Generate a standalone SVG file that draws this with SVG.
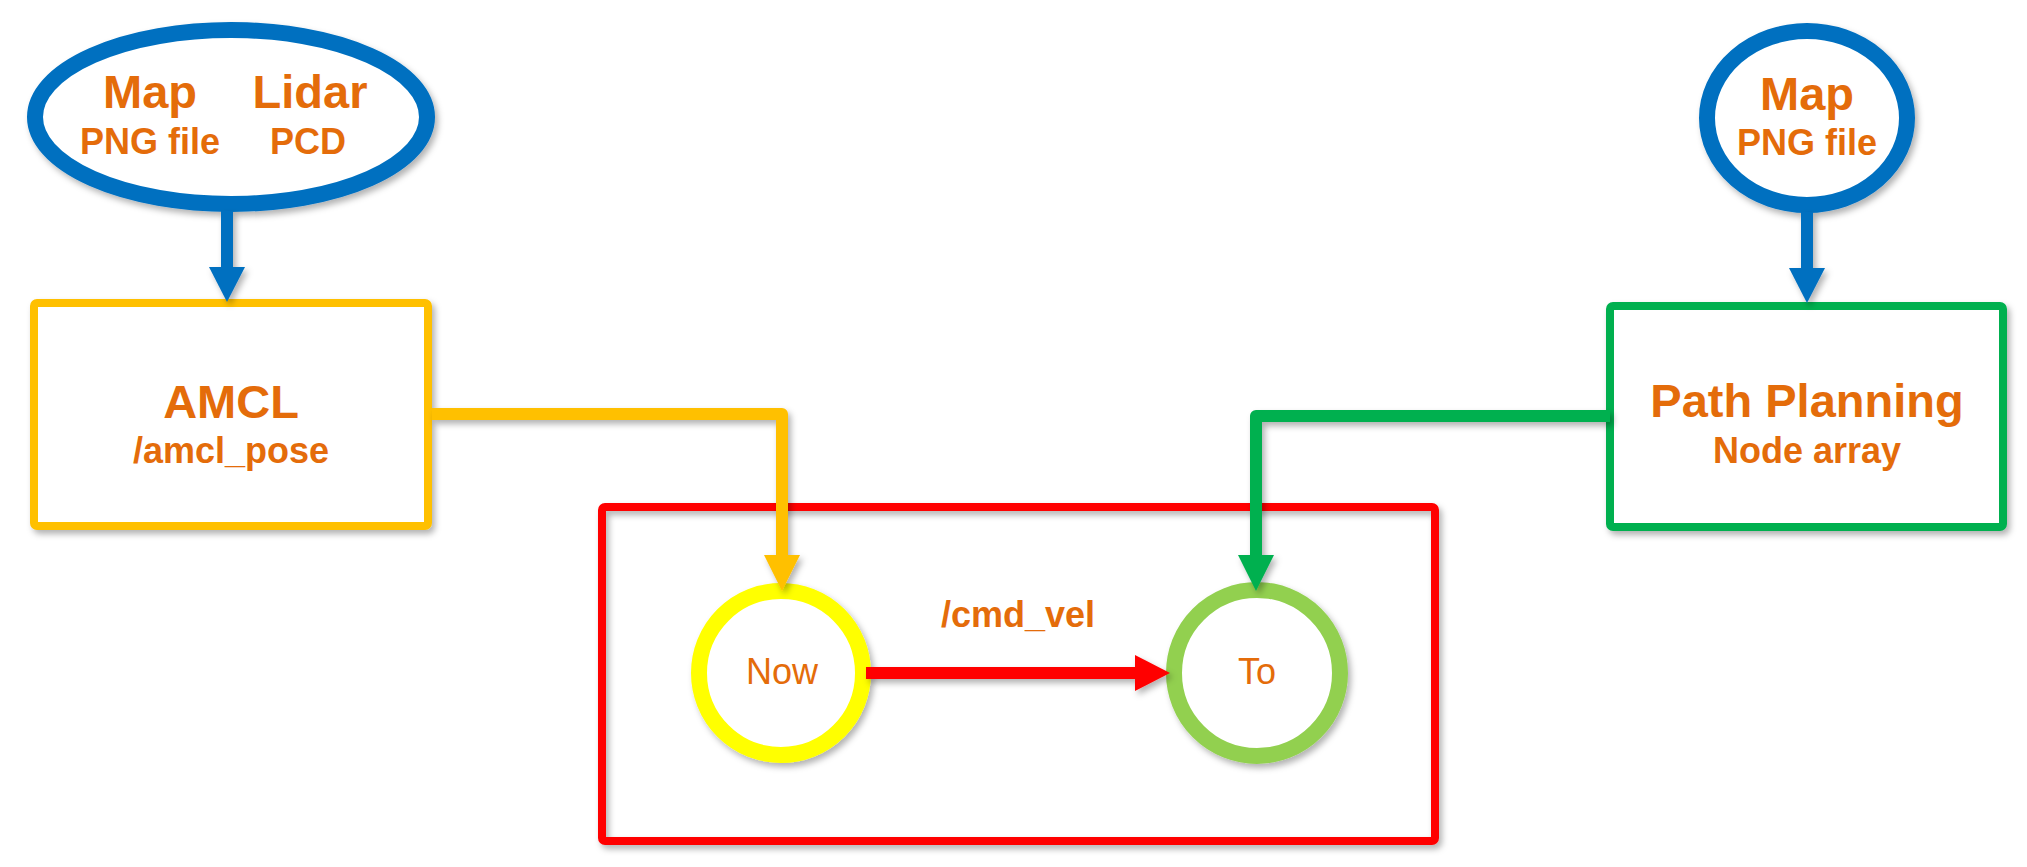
<svg xmlns="http://www.w3.org/2000/svg" width="2027" height="867" viewBox="0 0 2027 867">
<defs>
<filter id="sh" filterUnits="userSpaceOnUse" x="0" y="0" width="2027" height="867">
<feDropShadow dx="3" dy="4" stdDeviation="3" flood-color="#000" flood-opacity="0.3"/>
</filter>
<marker id="aBlue" markerUnits="userSpaceOnUse" markerWidth="36" markerHeight="36" refX="0" refY="18" orient="auto"><path d="M0,0 L35,18 L0,36 z" fill="#0070C0"/></marker>
<marker id="aYellow" markerUnits="userSpaceOnUse" markerWidth="36" markerHeight="36" refX="0" refY="18" orient="auto"><path d="M0,0 L36,18 L0,36 z" fill="#FFC000"/></marker>
<marker id="aGreen" markerUnits="userSpaceOnUse" markerWidth="36" markerHeight="36" refX="0" refY="18" orient="auto"><path d="M0,0 L36,18 L0,36 z" fill="#00B050"/></marker>
<marker id="aRed" markerUnits="userSpaceOnUse" markerWidth="36" markerHeight="36" refX="0" refY="18" orient="auto"><path d="M0,0 L35,18 L0,36 z" fill="#FF0000"/></marker>
</defs>
<style>
text{font-family:"Liberation Sans",Arial,sans-serif;fill:#E46C0A;text-anchor:middle}
.main{font-size:47px;font-weight:bold}
.sub{font-size:36px;font-weight:bold}
.reg{font-size:36px}
.shape{fill:#fff;filter:url(#sh)}
.conn{fill:none;stroke-width:12;stroke-linejoin:round;filter:url(#sh)}
</style>
<rect width="2027" height="867" fill="#fff"/>
<g id="input-left">
<ellipse class="shape" cx="231" cy="117" rx="196" ry="87" stroke="#0070C0" stroke-width="16"/>
<text class="main" x="150" y="108">Map</text>
<text class="sub" x="150" y="154">PNG file</text>
<text class="main" x="310" y="108">Lidar</text>
<text class="sub" x="308" y="154">PCD</text>
</g>
<g id="input-right">
<ellipse class="shape" cx="1807" cy="118" rx="100" ry="87" stroke="#0070C0" stroke-width="16"/>
<text class="main" x="1807" y="110">Map</text>
<text class="sub" x="1807" y="155">PNG file</text>
</g>
<g id="amcl">
<rect class="shape" x="34" y="303" width="394" height="223" rx="3" stroke="#FFC000" stroke-width="8"/>
<text class="main" x="231" y="418">AMCL</text>
<text class="sub" x="231" y="463">/amcl_pose</text>
</g>
<g id="path-planning">
<rect class="shape" x="1610" y="306" width="393" height="221" rx="3" stroke="#00B050" stroke-width="8"/>
<text class="main" x="1807" y="417">Path Planning</text>
<text class="sub" x="1807" y="463">Node array</text>
</g>
<g id="controller">
<rect x="602" y="507" width="833" height="334" rx="3" fill="none" stroke="#FF0000" stroke-width="8" filter="url(#sh)"/>
</g>
<g id="now">
<circle class="shape" cx="781" cy="673" r="82" stroke="#FFFF00" stroke-width="16"/>
<text class="reg" x="782" y="684">Now</text>
</g>
<g id="to">
<circle class="shape" cx="1257" cy="673" r="83" stroke="#92D050" stroke-width="16"/>
<text class="reg" x="1257" y="684">To</text>
</g>
<g id="connectors">
<path class="conn" d="M227,211 V267" stroke="#0070C0" marker-end="url(#aBlue)"/>
<path class="conn" d="M1807,212 V268" stroke="#0070C0" marker-end="url(#aBlue)"/>
<path class="conn" d="M432,414 H782 V555" stroke="#FFC000" marker-end="url(#aYellow)"/>
<path class="conn" d="M1610,416 H1256 V555" stroke="#00B050" marker-end="url(#aGreen)"/>
<path class="conn" d="M866,673 H1135" stroke="#FF0000" stroke-width="11" marker-end="url(#aRed)"/>
<text class="sub" x="1018" y="627">/cmd_vel</text>
</g>
</svg>
